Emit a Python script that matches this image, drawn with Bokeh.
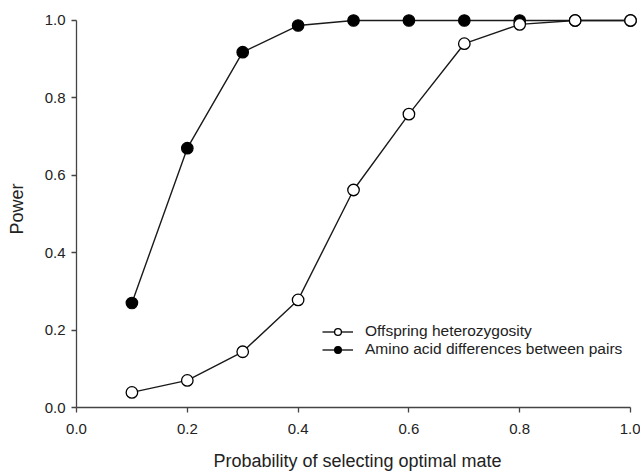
from bokeh.plotting import figure
from bokeh.embed import file_html
from bokeh.resources import INLINE
from bokeh.models import Range1d, Legend, LegendItem, FixedTicker, CustomJSTickFormatter

x_vals = [0.1, 0.2, 0.3, 0.4, 0.5, 0.6, 0.7, 0.8, 0.9, 1.0]
offspring_het = [0.039, 0.07, 0.144, 0.278, 0.562, 0.758, 0.94, 0.99, 1.0, 1.0]
amino_diff = [0.27, 0.67, 0.918, 0.987, 1.0, 1.0, 1.0, 1.0, 1.0, 1.0]
ticks = [0.0, 0.2, 0.4, 0.6, 0.8, 1.0]

FONT = "Liberation Sans"
INK = "#1a1a1a"

p = figure(width=640, height=473, output_backend="svg", toolbar_location=None,
           x_range=Range1d(0, 1.0144), y_range=Range1d(0, 1.0258),
           min_border_left=76, min_border_right=2, min_border_top=10, min_border_bottom=66)
p.outline_line_color = None
p.grid.visible = False
p.background_fill_color = "white"

for ax in (p.xaxis[0], p.yaxis[0]):
    ax.ticker = FixedTicker(ticks=ticks)
    ax.bounds = (0, 1)
    ax.minor_tick_line_color = None
    ax.major_tick_in = 0
    ax.major_tick_out = 5
    ax.axis_line_color = "#444444"
    ax.axis_line_width = 1.3
    ax.major_tick_line_color = "#444444"
    ax.major_tick_line_width = 1.3
    ax.major_label_text_font = FONT
    ax.major_label_text_font_size = "15px"
    ax.major_label_text_color = "#222222"
    ax.axis_label_text_font = FONT
    ax.axis_label_text_font_size = "18px"
    ax.axis_label_text_font_style = "normal"
    ax.axis_label_text_color = "#222222"
    ax.formatter = CustomJSTickFormatter(code="return tick.toFixed(1);")

p.xaxis[0].axis_label = "Probability of selecting optimal mate"
p.yaxis[0].axis_label = "Power"
p.xaxis[0].major_label_standoff = 11
p.xaxis[0].axis_label_standoff = 14
p.yaxis[0].major_label_standoff = 6
p.yaxis[0].axis_label_standoff = 15

l2 = p.line(x_vals, amino_diff, line_color=INK, line_width=1.4)
c2 = p.scatter(x_vals, amino_diff, size=11.5, marker="circle", fill_color="black",
               line_color="black", line_width=1.2)
l1 = p.line(x_vals, offspring_het, line_color=INK, line_width=1.4)
c1 = p.scatter(x_vals, offspring_het, size=11.5, marker="circle", fill_color="white",
               line_color="black", line_width=1.3)

legend = Legend(items=[
    LegendItem(label="Offspring heterozygosity", renderers=[l1, c1]),
    LegendItem(label="Amino acid differences between pairs", renderers=[l2, c2]),
], location=(246, 49))
legend.border_line_color = None
legend.background_fill_alpha = 0
legend.label_text_font = FONT
legend.label_text_font_size = "15.5px"
legend.label_text_color = "#222222"
legend.glyph_width = 31
legend.glyph_height = 17
legend.label_height = 16
legend.spacing = 0
legend.padding = 2
legend.margin = 0
legend.label_standoff = 12
p.add_layout(legend, "center")

open("out.html", "w").write(file_html(p, INLINE))
